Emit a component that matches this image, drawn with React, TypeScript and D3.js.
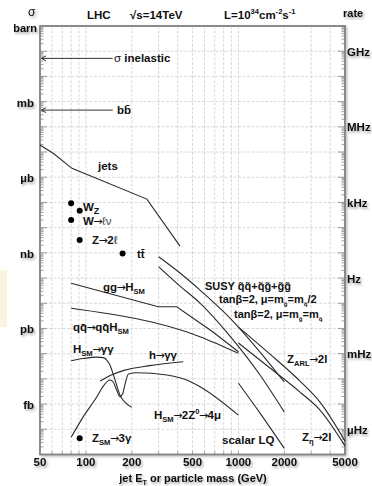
import React from "react";
import * as d3 from "d3";

const W = 372;
const H = 486;

// ---- axes ----
const xDomain = [50, 5000];
const yDomain = [1e-17, 1];
const xTickValues = [50, 100, 200, 500, 1000, 2000, 5000];
const xTickLabels = ["50", "100", "200", "500", "1000", "2000", "5000"];
const barnTickValues = [1, 1e-3, 1e-6, 1e-9, 1e-12, 1e-15];
const barnTickLabels = ["barn", "mb", "\u00b5b", "nb", "pb", "fb"];
const rateTickValues = [1e-1, 1e-4, 1e-7, 1e-10, 1e-13, 1e-16];
const rateTickLabels = ["GHz", "MHz", "kHz", "Hz", "mHz", "\u00b5Hz"];

// ---- arrows (total cross sections) ----
const sigmaInelastic = 0.052;
const sigmaBB = 4.6e-4;
const arrowFromMass = 150;
const arrowToMass = 50;

// ---- point processes (mass GeV, sigma barn) ----
const pointMass = [80, 91, 80, 91, 174, 91];
const pointSigma = [9.2e-8, 4.7e-8, 2.0e-8, 3.2e-9, 9.5e-10, 4.4e-17];

// ---- curves (mass GeV, sigma barn) ----
const jetsMass = [50, 61, 81, 251, 414];
const jetsSigma = [1.9e-5, 8.9e-6, 2.25e-6, 1.36e-7, 1.86e-9];

const ggHMass = [80, 298, 394, 560, 668, 1000];
const ggHSigma = [6.2e-11, 7.3e-12, 7.3e-12, 1.64e-12, 7.9e-13, 1.19e-13];

const qqHMass = [80, 560, 1000];
const qqHSigma = [6.3e-12, 4.7e-13, 1.03e-13];

const susyAMass = [300, 414, 560, 881, 1386, 2000];
const susyASigma = [7.0e-10, 1.58e-10, 3.34e-11, 2.59e-12, 1.16e-13, 7.5e-15];

const susyBMass = [300, 414, 560, 881, 1386, 2000];
const susyBSigma = [2.81e-10, 4.82e-11, 1.02e-11, 5.0e-13, 1.42e-14, 4.8e-16];

const zArlMass = [1000, 1611, 2534, 3428, 5000];
const zArlSigma = [1.14e-12, 9.6e-14, 8.2e-15, 1.2e-15, 3.4e-17];

const zEtaMass = [1000, 1611, 2534, 3428, 5000];
const zEtaSigma = [2.64e-13, 2.69e-14, 3.0e-15, 5.8e-16, 2.2e-17];

const lqMass = [1000, 1386, 2000];
const lqSigma = [6.8e-15, 4.4e-16, 1.75e-17];

const hggMass = [80, 96, 118, 130, 137, 144, 151, 159, 167, 180, 200];
const hggSigma = [5.2e-14, 6.4e-14, 7.3e-14, 7.0e-14, 5.6e-14, 3.5e-14, 1.55e-14, 5.7e-15, 2.3e-15, 1.2e-15, 7.4e-16];

const h4muMass = [80, 96, 118, 130, 144, 151, 159, 167, 174, 180, 190, 215, 339, 458, 560, 1000];
const h4muSigma = [4.8e-17, 3.1e-16, 1.95e-15, 5.2e-15, 9.0e-15, 7.5e-15, 3.6e-15, 1.95e-15, 2.5e-15, 5.7e-15, 1.55e-14, 1.75e-14, 1.42e-14, 9.0e-15, 4.9e-15, 3.65e-16];

const hSusyGGMass = [124, 144, 180, 263, 435];
const hSusyGGSigma = [8.2e-15, 1.35e-14, 2.23e-14, 3.37e-14, 4.8e-14];

const FONT = "'Liberation Sans', Arial, Helvetica, sans-serif";
const ARROW = "\u2192";
const AR_DX = -0.5;

type Part = { s: string; t?: "sub" | "sup"; w?: string };

function Rich({ x, y, parts, size = 11.5, anchor = "start", filter, subScale = 0.66 }: { x: number; y: number; parts: Part[]; size?: number; anchor?: string; filter?: string; subScale?: number }) {
  let cur = 0;
  const nodes: React.ReactNode[] = [];
  parts.forEach((p, i) => {
    const target = p.t === "sub" ? size * 0.3 : p.t === "sup" ? -size * 0.42 : 0;
    let dy = target - cur;
    cur = target;
    const fs = p.t ? size * subScale : size;
    const pieces = p.s.split(ARROW);
    pieces.forEach((piece, j) => {
      if (j > 0) {
        nodes.push(
          <tspan key={`${i}a${j}`} dy={dy} dx={AR_DX} fontSize={fs * 0.95} fontWeight="normal" fontFamily="'DejaVu Sans', sans-serif">
            {ARROW}
          </tspan>
        );
        dy = 0;
      }
      if (piece.length > 0) {
        nodes.push(
          <tspan key={`${i}p${j}`} dy={dy} dx={j > 0 ? AR_DX : 0} fontSize={fs} fontWeight={p.w || "bold"}>
            {piece}
          </tspan>
        );
        dy = 0;
      }
    });
  });
  return (
    <text x={x} y={y} fontSize={size} fontWeight="bold" fontFamily={FONT} textAnchor={anchor} fill="#111" filter={filter}>
      {nodes}
    </text>
  );
}

export default function App() {
  const left = 40, right = 345, top = 26, bottom = 454.5;
  const x = d3.scaleLog().domain(xDomain).range([left, right]);
  const y = d3.scaleLog().domain(yDomain).range([bottom, top]);

  const smooth = d3.line<[number, number]>().x((d) => x(d[0])).y((d) => y(d[1])).curve(d3.curveMonotoneX);
  const straight = d3.line<[number, number]>().x((d) => x(d[0])).y((d) => y(d[1]));
  const zip = (a: number[], b: number[]) => a.map((v, i) => [v, b[i]] as [number, number]);

  const curves: { m: number[]; s: number[]; lin?: boolean }[] = [
    { m: jetsMass, s: jetsSigma, lin: true },
    { m: ggHMass, s: ggHSigma, lin: true },
    { m: qqHMass, s: qqHSigma },
    { m: susyAMass, s: susyASigma },
    { m: susyBMass, s: susyBSigma },
    { m: zArlMass, s: zArlSigma },
    { m: zEtaMass, s: zEtaSigma },
    { m: lqMass, s: lqSigma },
    { m: hggMass, s: hggSigma },
    { m: h4muMass, s: h4muSigma },
    { m: hSusyGGMass, s: hSusyGGSigma },
  ];

  const vGrid: number[] = [];
  for (const dec of [10, 100, 1000]) for (let k = 1; k <= 9; k++) { const v = k * dec; if (v > 50 && v < 5000) vGrid.push(v); }
  const hGrid: number[] = [];
  for (let e = -16; e <= -1; e++) hGrid.push(Math.pow(10, e));
  const minorY: { v: number; major: boolean }[] = [];
  for (let e = -17; e <= 0; e++) for (let k = 1; k <= 9; k++) { const v = k * Math.pow(10, e); if (v >= 1e-17 && v <= 1) minorY.push({ v, major: k === 1 }); }

  const shadow = "url(#tsh)";
  const arrowY1 = y(sigmaInelastic);
  const arrowY2 = y(sigmaBB);
  const arrowTspan = (k: string) => (
    <tspan key={k} dx={AR_DX} fontWeight="normal" fontSize={11} fontFamily="'DejaVu Sans', sans-serif">→</tspan>
  );

  return (
    <svg width={W} height={H} style={{ position: "absolute", left: 0, top: 0, background: "#fff" }}>
      <defs>
        <filter id="tsh" x="-30%" y="-30%" width="170%" height="180%">
          <feDropShadow dx="1.5" dy="2" stdDeviation="1.1" floodColor="#000" floodOpacity="0.35" />
        </filter>
        <filter id="fsh" x="-5%" y="-5%" width="110%" height="110%">
          <feDropShadow dx="1.5" dy="1.5" stdDeviation="1" floodColor="#000" floodOpacity="0.25" />
        </filter>
      </defs>
      <rect x={0} y={270} width={7} height={57} fill="#f5f2d6" opacity={0.8} />
      <rect x={left} y={top} width={right - left} height={bottom - top} fill="#fff" stroke="#858585" strokeWidth={1.5} filter="url(#fsh)" />
      <g stroke="#cfcfcf" strokeWidth={0.8} strokeDasharray="3,1.5">
        {vGrid.map((v) => (
          <line key={"v" + v} x1={x(v)} x2={x(v)} y1={top} y2={bottom} />
        ))}
        {hGrid.map((v) => (
          <line key={"h" + v} x1={left} x2={right} y1={y(v)} y2={y(v)} />
        ))}
      </g>
      <g stroke="#888" strokeWidth={0.8}>
        {minorY.map((t, i) => (
          <g key={i}>
            <line x1={left} x2={left + (t.major ? 7 : 3.5)} y1={y(t.v)} y2={y(t.v)} />
            <line x1={right} x2={right - (t.major ? 7 : 3.5)} y1={y(t.v)} y2={y(t.v)} />
          </g>
        ))}
        {vGrid.map((v) => (
          <line key={"bt" + v} x1={x(v)} x2={x(v)} y1={bottom} y2={bottom - 3} />
        ))}
      </g>
      <rect x={left} y={top} width={right - left} height={bottom - top} fill="none" stroke="#858585" strokeWidth={1.5} />

      <g fill="none" stroke="#2a2a2a" strokeWidth={1.1}>
        {curves.map((c, i) => (
          <path key={i} d={(c.lin ? straight : smooth)(zip(c.m, c.s)) || ""} />
        ))}
      </g>

      <g stroke="#333" strokeWidth={1} fill="none">
        <line x1={x(arrowFromMass)} x2={x(arrowToMass) + 1.5} y1={arrowY1} y2={arrowY1} />
        <path d={`M${x(arrowToMass) + 6},${arrowY1 - 2.5} L${x(arrowToMass) + 1.5},${arrowY1} L${x(arrowToMass) + 6},${arrowY1 + 2.5}`} />
        <line x1={x(arrowFromMass)} x2={x(arrowToMass) + 1.5} y1={arrowY2} y2={arrowY2} />
        <path d={`M${x(arrowToMass) + 6},${arrowY2 - 2.5} L${x(arrowToMass) + 1.5},${arrowY2} L${x(arrowToMass) + 6},${arrowY2 + 2.5}`} />
      </g>

      {pointMass.map((m, i) => (
        <circle key={i} cx={x(m)} cy={y(pointSigma[i])} r={3} fill="#000" />
      ))}

      <text x={28} y={16} fontSize={12} fontFamily={FONT} fill="#111" filter={shadow}>σ</text>
      <Rich x={37} y={31.5} size={11} anchor="end" parts={[{ s: barnTickLabels[0] }]} filter={shadow} />
      <Rich x={87} y={19} parts={[{ s: "LHC" }]} />
      <Rich x={130} y={19} parts={[{ s: "\u221as=14TeV" }]} />
      <Rich x={224} y={19} parts={[{ s: "L=10" }, { s: "34", t: "sup" }, { s: "cm" }, { s: "-2", t: "sup" }, { s: "s" }, { s: "-1", t: "sup" }]} />
      <Rich x={343} y={17} size={11} parts={[{ s: "rate" }]} filter={shadow} />

      {barnTickValues.slice(1).map((v, i) => (
        <Rich key={v} x={34} y={y(v) + 5} anchor="end" parts={[{ s: barnTickLabels[i + 1] }]} filter={shadow} />
      ))}
      {rateTickValues.map((v, i) => (
        <Rich key={v} x={347} y={y(v) + 4.5} parts={[{ s: rateTickLabels[i] }]} filter={shadow} />
      ))}
      {xTickValues.map((v, i) => (
        <Rich key={v} x={x(v)} y={466} anchor="middle" parts={[{ s: xTickLabels[i] }]} filter={shadow} />
      ))}
      <Rich x={193} y={482} size={11} anchor="middle" parts={[{ s: "jet E" }, { s: "T", t: "sub" }, { s: " or particle mass (GeV)" }]} filter={shadow} />

      <text x={114} y={arrowY1 + 4} fontSize={11.5} fontFamily={FONT} fill="#111">
        <tspan>σ </tspan>
        <tspan fontWeight="bold">inelastic</tspan>
      </text>
      <Rich x={117} y={arrowY2 + 4} parts={[{ s: "bb\u0304" }]} />
      <Rich x={98} y={170} parts={[{ s: "jets" }]} />
      <text x={83} y={211} fontSize={11.5} fontWeight="bold" fontFamily={FONT} fill="#111">
        W<tspan fontSize={9} dy={3}>Z</tspan>
      </text>
      <text x={83} y={224.5} fontSize={11.5} fontWeight="bold" fontFamily={FONT} fill="#111">
        W{arrowTspan("a")}<tspan dx={AR_DX} fontWeight="normal" fill="#444">ℓν</tspan>
      </text>
      <text x={92} y={244} fontSize={11.5} fontWeight="bold" fontFamily={FONT} fill="#111">
        Z{arrowTspan("b")}<tspan dx={AR_DX}>2</tspan><tspan fontWeight="normal">ℓ</tspan>
      </text>
      <Rich x={137} y={258} parts={[{ s: "tt\u0304" }]} />
      <Rich x={103} y={291} parts={[{ s: "gg→H" }, { s: "SM", t: "sub" }]} />
      <Rich x={73} y={331} parts={[{ s: "qq\u0304→qq\u0304H" }, { s: "SM", t: "sub" }]} />
      <Rich x={205} y={290} size={11} parts={[{ s: "SUSY q\u0303q\u0303+q\u0303g\u0303+g\u0303g\u0303" }]} />
      <Rich x={219} y={303} size={11} subScale={0.55} parts={[{ s: "tanβ=2, μ=m" }, { s: "g\u0303", t: "sub" }, { s: "=m" }, { s: "q\u0303", t: "sub" }, { s: "/2" }]} />
      <Rich x={234} y={318} size={11} subScale={0.55} parts={[{ s: "tanβ=2, μ=m" }, { s: "g\u0303", t: "sub" }, { s: "=m" }, { s: "q\u0303", t: "sub" }]} />
      <Rich x={73} y={353} parts={[{ s: "H" }, { s: "SM", t: "sub" }, { s: "→γγ" }]} />
      <Rich x={149} y={359} parts={[{ s: "h→γγ" }]} />
      <Rich x={287} y={363} parts={[{ s: "Z" }, { s: "ARL", t: "sub" }, { s: "→2l" }]} />
      <Rich x={154} y={419} parts={[{ s: "H" }, { s: "SM", t: "sub" }, { s: "→2Z" }, { s: "0", t: "sup" }, { s: "→4μ" }]} />
      <Rich x={92} y={442} parts={[{ s: "Z" }, { s: "SM", t: "sub" }, { s: "→3γ" }]} />
      <Rich x={222} y={444} parts={[{ s: "scalar LQ" }]} />
      <Rich x={302} y={441} parts={[{ s: "Z" }, { s: "η", t: "sub" }, { s: "→2l" }]} />
    </svg>
  );
}
